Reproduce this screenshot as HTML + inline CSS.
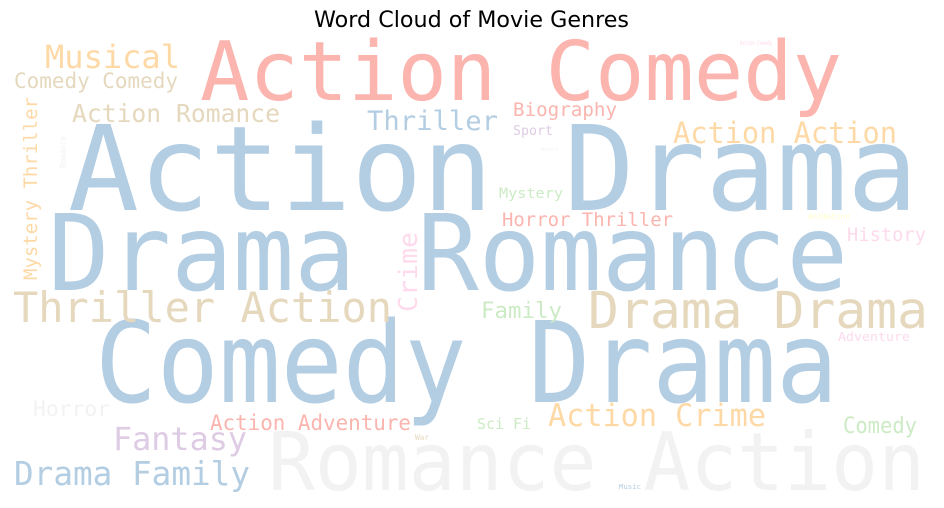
<!DOCTYPE html>
<html><head><meta charset="utf-8"><style>
html,body{margin:0;padding:0;background:#fff;}
svg{display:block;}
text.w{font-family:"DejaVu Sans Mono","Liberation Mono",monospace;}
</style></head><body>
<svg width="944" height="508" viewBox="0 0 944 508">
<text x="314" y="27" textLength="315" lengthAdjust="spacingAndGlyphs" font-family="DejaVu Sans, Liberation Sans, sans-serif" font-size="22" fill="#000">Word Cloud of Movie Genres</text>
<g id="words"></g>
</svg>
<script>
const words = ["Action Comedy","Action Drama","Drama Romance","Comedy Drama","Romance Action","Drama Drama","Thriller Action","Musical","Comedy Comedy","Action Romance","Thriller","Biography","Sport","Action Action","Mystery","Horror Thriller","History","Mystery Thriller","Crime","Family","Adventure","Horror","Action Adventure","Sci Fi","Action Crime","Comedy","Fantasy","Drama Family","War","Music","Action Comedy","Romance","Western","Animation"];
const sizes = [82,118,105,112,80,51,42,32,21,25,27,19,13,29,14,19,19,19,26,22,12,21,21,15,31,22,32,33,8,7,6,9,5,8];
const colors = ["#fbb4ae","#b3cde3","#b3cde3","#b3cde3","#f2f2f2","#e5d8bd","#e5d8bd","#fed9a6","#e5d8bd","#e5d8bd","#b3cde3","#fbb4ae","#decbe4","#fed9a6","#ccebc5","#fbb4ae","#fddaec","#fed9a6","#fddaec","#ccebc5","#fddaec","#f2f2f2","#fbb4ae","#ccebc5","#fed9a6","#ccebc5","#decbe4","#b3cde3","#e5d8bd","#b3cde3","#fddaec","#f2f2f2","#f2f2f2","#ffffcc"];
const xs = [200,68,48,95,268,588,13,45,14,72,367,513,513,673,499,502,847,37,417,481,838,33,210,477,548,843,113,14,415,619,740,66,541,808];
const ys = [100,210,290,402,490,328,322,68,88,122,130,116,135,143,198,226,241,280,312,318,341,416,430,429,426,433,450,485,440,489,45,168,151,219];
const widths = [642,850,800,743,657,340,379,135,164,208,131,104,40,224,64,171,79,183,80,81,72,77,201,54,218,74,134,236,14,22,32,32,17,42];
const vertical = [0,0,0,0,0,0,0,0,0,0,0,0,0,0,0,0,0,1,1,0,0,0,0,0,0,0,0,0,0,0,0,1,0,0];
const g = document.getElementById('words');
const NS = 'http://www.w3.org/2000/svg';
words.forEach((w,i)=>{
  const t = document.createElementNS(NS,'text');
  t.setAttribute('class','w');
  t.setAttribute('x',xs[i]);
  t.setAttribute('y',ys[i]);
  t.setAttribute('font-size',sizes[i]);
  t.setAttribute('fill',colors[i]);
  t.setAttribute('textLength',widths[i]);
  t.setAttribute('lengthAdjust','spacingAndGlyphs');
  if(vertical[i]) t.setAttribute('transform','rotate(-90 '+xs[i]+' '+ys[i]+')');
  t.textContent = w;
  
  
  g.appendChild(t);
});
</script>
</body></html>
